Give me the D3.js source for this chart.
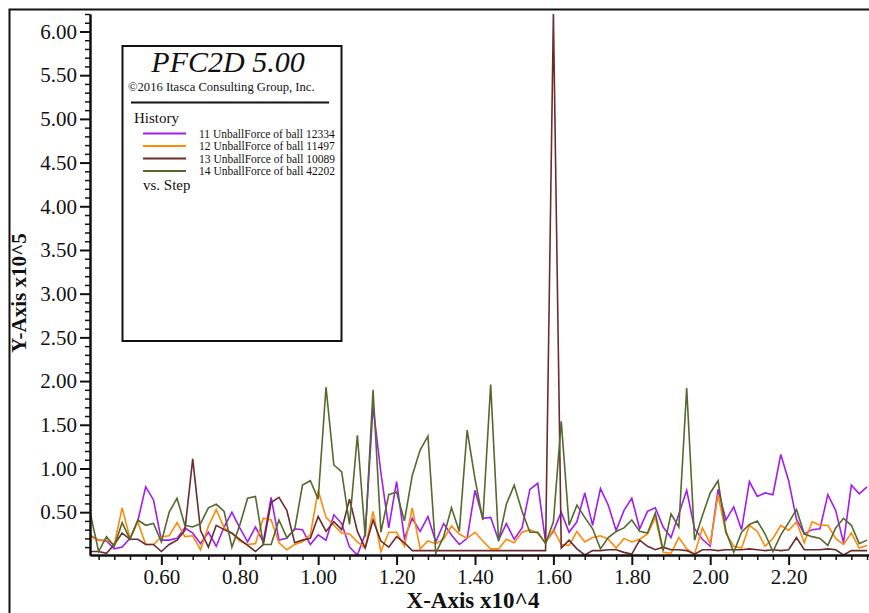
<!DOCTYPE html>
<html>
<head>
<meta charset="utf-8">
<script src="https://cdn.jsdelivr.net/npm/d3@7/dist/d3.min.js"></script>
<style>
	body { margin: 0; background: #fff; }
	svg { display: block; font-family: "Liberation Serif", "Times New Roman", serif; }
</style>
</head>
<body>
<svg id="chart" width="869" height="613"></svg>
<script type="text/javascript">
(function() {
	'use strict';

	// step (x10^4)
	var steps = [
		0.42, 0.44, 0.46, 0.48, 0.50, 0.52, 0.54, 0.56, 0.58, 0.60,
		0.62, 0.64, 0.66, 0.68, 0.70, 0.72, 0.74, 0.76, 0.78, 0.80,
		0.82, 0.84, 0.86, 0.88, 0.90, 0.92, 0.94, 0.96, 0.98, 1.00,
		1.02, 1.04, 1.06, 1.08, 1.10, 1.12, 1.14, 1.16, 1.18, 1.20,
		1.22, 1.24, 1.26, 1.28, 1.30, 1.32, 1.34, 1.36, 1.38, 1.40,
		1.42, 1.44, 1.46, 1.48, 1.50, 1.52, 1.54, 1.56, 1.58, 1.60,
		1.62, 1.64, 1.66, 1.68, 1.70, 1.72, 1.74, 1.76, 1.78, 1.80,
		1.82, 1.84, 1.86, 1.88, 1.90, 1.92, 1.94, 1.96, 1.98, 2.00,
		2.02, 2.04, 2.06, 2.08, 2.10, 2.12, 2.14, 2.16, 2.18, 2.20,
		2.22, 2.24, 2.26, 2.28, 2.30, 2.32, 2.34, 2.36, 2.38, 2.40
	];

	// unbalanced force (x10^5)
	var ball12334 = [
		0.23, 0.18, 0.17, 0.08, 0.10, 0.20, 0.40, 0.79, 0.64, 0.18,
		0.18, 0.20, 0.32, 0.26, 0.14, 0.27, 0.11, 0.33, 0.50, 0.32,
		0.16, 0.33, 0.16, 0.67, 0.18, 0.20, 0.31, 0.30, 0.13, 0.24,
		0.18, 0.47, 0.37, 0.10, 0.01, 0.25, 1.71, 0.95, 0.32, 0.85,
		0.20, 0.43, 0.28, 0.45, 0.16, 0.37, 0.24, 0.13, 0.20, 0.75,
		0.43, 0.44, 0.18, 0.37, 0.19, 0.32, 0.76, 0.83, 0.16, 0.28,
		0.50, 0.27, 0.39, 0.72, 0.35, 0.77, 0.58, 0.29, 0.52, 0.66,
		0.31, 0.51, 0.55, 0.33, 0.21, 0.48, 0.75, 0.31, 0.19, 0.11,
		0.76, 0.41, 0.56, 0.30, 0.85, 0.68, 0.72, 0.70, 1.16, 0.86,
		0.42, 0.25, 0.30, 0.31, 0.70, 0.52, 0.15, 0.81, 0.71, 0.79
	];
	var ball11497 = [
		0.22, 0.18, 0.18, 0.13, 0.55, 0.20, 0.39, 0.13, 0.13, 0.22,
		0.23, 0.38, 0.22, 0.23, 0.07, 0.34, 0.53, 0.32, 0.26, 0.17,
		0.13, 0.14, 0.43, 0.41, 0.15, 0.07, 0.13, 0.16, 0.24, 0.75,
		0.44, 0.35, 0.26, 0.25, 0.16, 0.09, 0.51, 0.05, 0.27, 0.27,
		0.11, 0.55, 0.08, 0.17, 0.14, 0.19, 0.34, 0.25, 0.20, 0.27,
		0.17, 0.08, 0.08, 0.19, 0.15, 0.27, 0.30, 0.26, 0.15, 0.30,
		0.13, 0.12, 0.28, 0.16, 0.21, 0.23, 0.19, 0.09, 0.20, 0.16,
		0.19, 0.25, 0.44, 0.04, 0.03, 0.21, 0.08, 0.02, 0.32, 0.14,
		0.70, 0.26, 0.11, 0.09, 0.35, 0.28, 0.11, 0.20, 0.35, 0.29,
		0.39, 0.15, 0.39, 0.35, 0.35, 0.20, 0.13, 0.26, 0.09, 0.12
	];
	var ball10089 = [
		0.05, 0.05, 0.03, 0.13, 0.26, 0.19, 0.19, 0.13, 0.13, 0.05,
		0.13, 0.18, 0.29, 1.11, 0.29, 0.10, 0.35, 0.30, 0.26, 0.19,
		0.12, 0.05, 0.13, 0.61, 0.67, 0.52, 0.15, 0.18, 0.20, 0.45,
		0.28, 0.39, 0.30, 0.65, 0.28, 0.09, 0.41, 0.17, 0.10, 0.22,
		0.15, 0.06, 0.06, 0.06, 0.06, 0.06, 0.06, 0.06, 0.06, 0.06,
		0.06, 0.06, 0.06, 0.06, 0.06, 0.06, 0.06, 0.06, 0.06, 6.20,
		0.09, 0.18, 0.08, 0.01, 0.06, 0.06, 0.07, 0.07, 0.04, 0.02,
		0.18, 0.11, 0.07, 0.10, 0.07, 0.07, 0.06, 0.02, 0.07, 0.07,
		0.06, 0.07, 0.07, 0.07, 0.08, 0.07, 0.06, 0.07, 0.06, 0.07,
		0.21, 0.07, 0.07, 0.07, 0.08, 0.07, 0.01, 0.06, 0.06, 0.06
	];
	var ball42202 = [
		0.46, 0.05, 0.22, 0.11, 0.38, 0.19, 0.41, 0.35, 0.37, 0.16,
		0.50, 0.66, 0.35, 0.33, 0.37, 0.55, 0.59, 0.51, 0.10, 0.35,
		0.66, 0.68, 0.13, 0.13, 0.41, 0.21, 0.30, 0.81, 0.86, 0.65,
		1.93, 1.04, 0.96, 0.36, 1.38, 0.22, 1.90, 0.27, 0.70, 0.73,
		0.40, 0.92, 1.21, 1.37, 0.03, 0.22, 0.55, 0.28, 1.44, 0.88,
		0.41, 1.96, 0.17, 0.59, 0.81, 0.51, 0.27, 0.27, 0.14, 0.39,
		1.54, 0.35, 0.58, 0.44, 0.31, 0.08, 0.21, 0.28, 0.32, 0.41,
		0.28, 0.26, 0.49, 0.06, 0.48, 0.33, 1.92, 0.18, 0.46, 0.72,
		0.86, 0.28, 0.04, 0.27, 0.36, 0.40, 0.25, 0.05, 0.24, 0.38,
		0.53, 0.25, 0.22, 0.20, 0.12, 0.32, 0.43, 0.35, 0.14, 0.18
	];

	var seriesNames = [
		'11 UnballForce of ball 12334',
		'12 UnballForce of ball 11497',
		'13 UnballForce of ball 10089',
		'14 UnballForce of ball 42202'
	];
	var seriesColors = ['#a21cf2', '#ff8a0a', '#6b2c2c', '#536a2c'];

	var xMajorTicks = [0.60, 0.80, 1.00, 1.20, 1.40, 1.60, 1.80, 2.00, 2.20];
	var yMajorTicks = [0.50, 1.00, 1.50, 2.00, 2.50, 3.00, 3.50, 4.00, 4.50, 5.00, 5.50, 6.00];
	var xMinorTicks = [0.44, 0.48, 0.52, 0.56, 0.64, 0.68, 0.72, 0.76, 0.84, 0.88, 0.92, 0.96,
		1.04, 1.08, 1.12, 1.16, 1.24, 1.28, 1.32, 1.36, 1.44, 1.48, 1.52, 1.56, 1.64, 1.68,
		1.72, 1.76, 1.84, 1.88, 1.92, 1.96, 2.04, 2.08, 2.12, 2.16, 2.24, 2.28, 2.32, 2.36, 2.40];
	var yMinorTicks = [0.1, 0.2, 0.3, 0.4, 0.6, 0.7, 0.8, 0.9, 1.1, 1.2, 1.3, 1.4, 1.6, 1.7, 1.8, 1.9,
		2.1, 2.2, 2.3, 2.4, 2.6, 2.7, 2.8, 2.9, 3.1, 3.2, 3.3, 3.4, 3.6, 3.7, 3.8, 3.9,
		4.1, 4.2, 4.3, 4.4, 4.6, 4.7, 4.8, 4.9, 5.1, 5.2, 5.3, 5.4, 5.6, 5.7, 5.8, 5.9, 6.1, 6.2];

	var W = 869, H = 613;
	var plot = { left: 90, right: 869, top: 14, bottom: 555 };

	var svg = d3.select('#chart');

	svg.append('rect')
		.attr('width', W)
		.attr('height', H)
		.attr('fill', '#fff');

	// outer frame (runs off the right and bottom of the picture)
	svg.append('path')
		.attr('d', 'M9.5,' + H + 'V9.5H' + W)
		.attr('fill', 'none')
		.attr('stroke', '#111')
		.attr('stroke-width', 2);

	var x = d3.scaleLinear().domain([0.418, 2.405]).range([plot.left, plot.right]);
	var y = d3.scaleLinear().domain([0.01, 6.2]).range([plot.bottom, plot.top]);

	svg.append('clipPath')
		.attr('id', 'plotclip')
		.append('rect')
		.attr('x', plot.left)
		.attr('y', plot.top - 2)
		.attr('width', plot.right - plot.left)
		.attr('height', plot.bottom - plot.top + 2);

	var series = [ball12334, ball11497, ball10089, ball42202];

	var line = d3.line()
		.x(function(d) { return x(d[0]); })
		.y(function(d) { return y(d[1]); });

	var lines = svg.append('g').attr('clip-path', 'url(#plotclip)');
	series.forEach(function(vals, i) {
		var pts = steps.map(function(s, j) { return [s, vals[j]]; });
		lines.append('path')
			.datum(pts)
			.attr('d', line)
			.attr('fill', 'none')
			.attr('stroke', seriesColors[i])
			.attr('stroke-width', 1.6)
			.attr('stroke-linejoin', 'miter');
	});

	// axes: minor ticks first, then the labelled majors
	function styleAxis(g, width) {
		g.selectAll('.tick line').attr('stroke', '#111').attr('stroke-width', width);
		g.select('.domain').attr('stroke', '#111').attr('stroke-width', 2);
		g.selectAll('.tick text')
			.attr('fill', '#111')
			.style('font-family', '"Liberation Serif", "Times New Roman", serif')
			.style('font-size', '21px');
	}

	var yMinor = svg.append('g')
		.attr('transform', 'translate(' + plot.left + ',0)')
		.call(d3.axisLeft(y).tickValues(yMinorTicks).tickSize(5).tickSizeOuter(0).tickFormat(''));
	styleAxis(yMinor, 1.5);

	var yMajor = svg.append('g')
		.attr('transform', 'translate(' + plot.left + ',0)')
		.call(d3.axisLeft(y).tickValues(yMajorTicks).tickSize(10).tickPadding(3).tickSizeOuter(0).tickFormat(d3.format('.2f')));
	styleAxis(yMajor, 2);

	var xMinor = svg.append('g')
		.attr('transform', 'translate(0,' + plot.bottom + ')')
		.call(d3.axisBottom(x).tickValues(xMinorTicks).tickSize(5).tickSizeOuter(0).tickFormat(''));
	styleAxis(xMinor, 1.5);

	var xMajor = svg.append('g')
		.attr('transform', 'translate(0,' + plot.bottom + ')')
		.call(d3.axisBottom(x).tickValues(xMajorTicks).tickSize(10).tickPadding(4).tickSizeOuter(0).tickFormat(d3.format('.2f')));
	styleAxis(xMajor, 2);

	// axis titles
	svg.append('text')
		.attr('transform', 'translate(26,293) rotate(-90)')
		.attr('text-anchor', 'middle')
		.attr('font-weight', 'bold')
		.attr('font-size', 21)
		.attr('fill', '#111')
		.text('Y-Axis x10^5');

	svg.append('text')
		.attr('x', 473)
		.attr('y', 608)
		.attr('text-anchor', 'middle')
		.attr('font-weight', 'bold')
		.attr('font-size', 23)
		.attr('fill', '#111')
		.text('X-Axis x10^4');

	// title / legend box
	var box = svg.append('g');
	box.append('rect')
		.attr('x', 122.5)
		.attr('y', 46)
		.attr('width', 219)
		.attr('height', 295)
		.attr('fill', '#fff')
		.attr('stroke', '#111')
		.attr('stroke-width', 2);

	box.append('text')
		.attr('x', 228)
		.attr('y', 72)
		.attr('text-anchor', 'middle')
		.attr('font-style', 'italic')
		.attr('font-size', 30)
		.attr('fill', '#111')
		.text('PFC2D 5.00');

	box.append('text')
		.attr('x', 128)
		.attr('y', 91)
		.attr('font-size', 12.6)
		.attr('fill', '#111')
		.text('\u00a92016 Itasca Consulting Group, Inc.');

	box.append('line')
		.attr('x1', 131)
		.attr('x2', 329)
		.attr('y1', 102.5)
		.attr('y2', 102.5)
		.attr('stroke', '#111')
		.attr('stroke-width', 2);

	box.append('text')
		.attr('x', 134)
		.attr('y', 123)
		.attr('font-size', 15)
		.attr('fill', '#111')
		.text('History');

	var legendY = [133.5, 146, 158.5, 171];
	seriesNames.forEach(function(name, i) {
		box.append('line')
			.attr('x1', 143)
			.attr('x2', 186)
			.attr('y1', legendY[i])
			.attr('y2', legendY[i])
			.attr('stroke', seriesColors[i])
			.attr('stroke-width', 2);
		box.append('text')
			.attr('x', 199)
			.attr('y', legendY[i] + 4)
			.attr('font-size', 11.5)
			.attr('fill', '#111')
			.text(name);
	});

	box.append('text')
		.attr('x', 143)
		.attr('y', 190)
		.attr('font-size', 15)
		.attr('fill', '#111')
		.text('vs. Step');

}());
</script>
</body>
</html>
